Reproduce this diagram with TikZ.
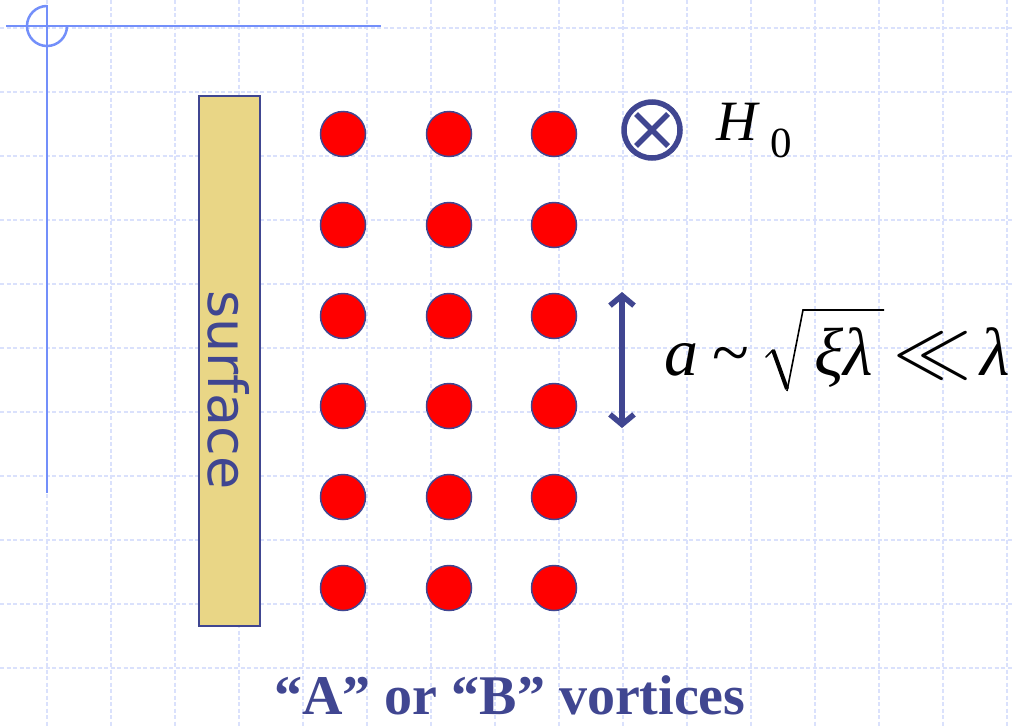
\RequirePackage{fix-cm}
\documentclass[tikz,border=0pt]{standalone}
\usepackage{fontspec}
\usepackage{graphicx}
\usetikzlibrary{arrows.meta}
\newfontfamily\tms{Liberation Serif}
\newfontfamily\dvs{DejaVu Sans}
\definecolor{inkblue}{RGB}{64,70,145}
\definecolor{sand}{RGB}{233,214,134}
\definecolor{gridc}{RGB}{218,225,252}
\definecolor{decoc}{RGB}{115,143,250}
\begin{document}
\begin{tikzpicture}[x=1pt,y=-1pt,
  dot/.style={circle, fill=red, draw=inkblue, line width=1.5pt, minimum size=45pt, inner sep=0pt},
  gridline/.style={draw=gridc, line width=1.1pt, dash pattern=on 4pt off 2.5pt},
  deco/.style={draw=decoc, line width=2.5pt},
  thick blue/.style={draw=inkblue, line width=5.5pt},
  mathtxt/.style={anchor=base west, inner sep=0pt, font=\tms\fontsize{68}{72}\selectfont}]
\useasboundingbox (0,0) rectangle (1014,726);
\fill[white] (0,0) rectangle (1014,726);
\foreach \y in {28,92,...,668} \draw[gridline] (0,\y) -- (1014,\y);
\foreach \x in {47,111,...,1007} \draw[gridline] (\x,0) -- (\x,726);
% decoration
\draw[deco] (6,26) -- (381,26);
\draw[deco] (47,5) -- (47,493);
\draw[deco] (47,6) arc[start angle=270, end angle=0, radius=20];
% surface
\node (surface) [draw=inkblue, fill=sand, line width=1.5pt, minimum width=61pt, minimum height=530pt, inner sep=0pt] at (229.5,361) {};
\node (surflabel) [rotate=-90, anchor=base, text=inkblue, font=\dvs\fontsize{54}{60}\selectfont, inner sep=0pt] at (208,390) {surface};
% vortices
\foreach \c/\x in {1/343,2/449,3/554}
  \foreach \r/\y in {1/134,2/225,3/316,4/406,5/497,6/588}
    \node[dot] (d\c\r) at (\x,\y) {};
% field
\node (hsym) [circle, thick blue, minimum size=56pt, inner sep=0pt] at (652,130) {};
\draw[thick blue] ([shift={(-16,-16)}]hsym.center) -- ([shift={(16,16)}]hsym.center);
\draw[thick blue] ([shift={(-16,16)}]hsym.center) -- ([shift={(16,-16)}]hsym.center);
\node (hlabel) [anchor=base west, inner sep=0pt, font=\tms\fontsize{57}{60}\selectfont] at (716,140) {\itshape H\hspace{13pt}\raisebox{-17pt}{\fontsize{43}{45}\selectfont\upshape 0}};
% spacing arrow
\coordinate (atop) at (622,292);
\coordinate (abot) at (622,428);
\draw[thick blue, {Straight Barb[length=10pt,width=24pt]}-{Straight Barb[length=10pt,width=24pt]}] (atop) -- (abot);
% formula
\node (fa) [mathtxt] at (664,375) {\itshape a\hspace{14pt}\upshape\textasciitilde};
\node (fxl) [mathtxt] at (814,375) {\itshape ξλ};
\node (fll) [mathtxt] at (893,375) {\scalebox{1.15}{$\ll$}\hspace{9pt}\itshape λ};
\draw[line width=1.6pt, line cap=round] (766,357) -- (773,350);
\draw[line width=4pt] (773,350) -- (787,389);
\draw[line width=1.6pt, line join=miter] (787,391) -- (803,310) -- (884,310);
% caption
\node (caption) [anchor=base, inner sep=0pt, text=inkblue, font=\tms\bfseries\fontsize{56}{60}\selectfont] at (510,714) {“A” or “B” vortices};
\end{tikzpicture}
\end{document}
